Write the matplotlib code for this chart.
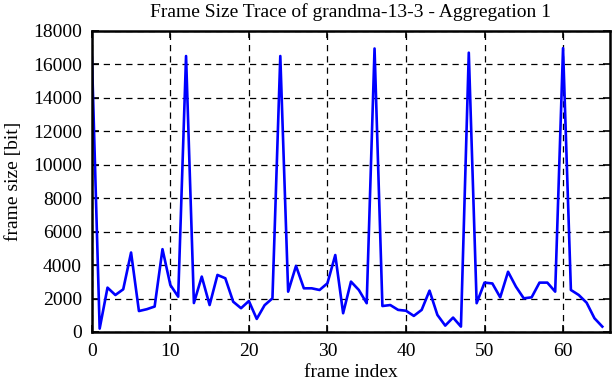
import numpy as np
import matplotlib
matplotlib.use("Agg")
from matplotlib import pyplot as plt

# frame sizes
frame_size = [16700, 200, 2650, 2210, 2550, 4750, 1250, 1360, 1520, 4950,
              2810, 2110, 16500, 1730, 3310, 1610, 3410, 3210, 1810, 1420,
              1850, 780, 1600, 2010, 16500, 2410, 3950, 2610, 2610, 2510,
              2910, 4600, 1120, 3010, 2510, 1720, 16950, 1550, 1610, 1320,
              1270, 960, 1320, 2470, 1020, 380, 860, 320, 16700, 1720,
              2950, 2900, 2070, 3600, 2710, 2010, 2070, 2950, 2950, 2410,
              16970, 2510, 2210, 1750, 820, 320]
frame_index = np.arange(len(frame_size))
xticks = [0, 10, 20, 30, 40, 50, 60]
yticks = list(range(0, 18001, 2000))

plt.rcParams['font.family'] = ['Liberation Serif', 'DejaVu Serif']
plt.rcParams['font.size'] = 14

fig = plt.figure(figsize=(6.12, 3.82), dpi=100)
ax = fig.add_axes([0.150, 0.131, 0.847, 0.788])
ax.plot(frame_index, frame_size, color='#0000ff', lw=1.9)
ax.set_xlim(0, 66)
ax.set_ylim(0, 18000)
ax.set_xticks(xticks)
ax.set_yticks(yticks)
ax.grid(True, color='black', linestyle=(0, (5, 4)), linewidth=0.9)
ax.tick_params(direction='in', top=True, right=True, length=5, width=1.2)
ax.tick_params(axis='x', pad=8)
ax.tick_params(axis='y', pad=7)
for s in ax.spines.values():
    s.set_linewidth(1.8)
ax.set_title("Frame Size Trace of grandma-13-3 - Aggregation 1", fontsize=14, pad=10)
ax.set_xlabel("frame index", labelpad=3)
ax.set_ylabel("frame size [bit]", labelpad=8)
fig.savefig("out.png", dpi=100)
